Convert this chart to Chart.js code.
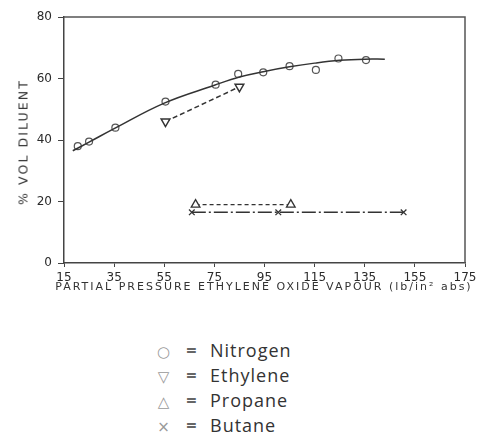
<!DOCTYPE html>
<html>
<head>
<meta charset="utf-8">
<script src="https://cdn.jsdelivr.net/npm/chart.js@4/dist/chart.umd.min.js"></script>
<style>
  html, body { margin: 0; padding: 0; background: #fff; }
  #wrap { position: relative; width: 482px; height: 438px; }
  #chart { position: absolute; left: 0; top: 0; }
  .axt { position: absolute; font-family: "DejaVu Sans", sans-serif; color: #333; white-space: nowrap; }
  #xtitle { left: 0; width: 528px; top: 280px; text-align: center; font-size: 11px; letter-spacing: 2px; }
  #ytitle { left: 23px; top: 142px; font-size: 12.5px; letter-spacing: 2.1px; transform: translate(-50%, -50%) rotate(-90deg); }
  #legend { position: absolute; left: 154px; top: 338px; font-family: "Open Sans", sans-serif; color: #333; }
  #legend div { height: 25px; line-height: 25px; font-size: 18px; letter-spacing: 1px; white-space: nowrap; }
  #legend .sym { display: inline-block; width: 20px; text-align: center; color: #999; font-family: "DejaVu Sans", sans-serif; font-size: 15px; }
  #legend .eq { display: inline-block; width: 36px; text-align: center; color: #666; font-weight: bold; }
</style>
</head>
<body>
<div id="wrap">
  <canvas id="chart" width="482" height="300"></canvas>
  <div id="xtitle" class="axt">PARTIAL PRESSURE ETHYLENE OXIDE VAPOUR (lb/in² abs)</div>
  <div id="ytitle" class="axt">% VOL DILUENT</div>
  <div id="legend">
    <div><span class="sym">○</span><span class="eq">=</span>Nitrogen</div>
    <div><span class="sym">▽</span><span class="eq">=</span>Ethylene</div>
    <div><span class="sym">△</span><span class="eq">=</span>Propane</div>
    <div><span class="sym">×</span><span class="eq">=</span>Butane</div>
  </div>
</div>
<script>
const nitrogenX = [20.5, 25, 35.5, 55.5, 75.5, 84.5, 94.5, 105, 115.5, 124.5, 135.5];
const nitrogenY = [38, 39.5, 44, 52.5, 58, 61.5, 62, 64, 62.8, 66.5, 66];

// Smooth fitted curve through the nitrogen points
const fitX = [18.5, 25, 35, 55, 75, 85, 95, 105, 115, 125, 135, 143];
const fitY = [36.5, 39.3, 43.7, 52, 57.8, 60.5, 62.3, 63.8, 65, 65.9, 66.3, 66.3];

const ethyleneX = [55.5, 85];
const ethyleneY = [46, 57.3];

const propaneX = [67.5, 105.5];
const propaneY = [19, 19];

const butaneX = [66, 100.5, 150.5];
const butaneY = [16.5, 16.5, 16.5];

const xTicks = [15, 35, 55, 75, 95, 115, 135, 155, 175];
const yTicks = [0, 20, 40, 60, 80];

const toPoints = (xs, ys) => xs.map((x, i) => ({ x: x, y: ys[i] }));

const ink = '#333';

// Box around the plot area (top and right edges)
const framePlugin = {
  id: 'frame',
  afterDraw(chart) {
    const a = chart.chartArea;
    const ctx = chart.ctx;
    ctx.save();
    ctx.strokeStyle = '#555';
    ctx.lineWidth = 1.5;
    ctx.beginPath();
    ctx.moveTo(a.left, a.top);
    ctx.lineTo(a.right, a.top);
    ctx.lineTo(a.right, a.bottom);
    ctx.stroke();
    ctx.restore();
  }
};

const ctx = document.getElementById('chart').getContext('2d');
const chart = new Chart(ctx, {
  type: 'scatter',
  data: {
    datasets: [
      {
        label: 'fit',
        data: toPoints(fitX, fitY),
        showLine: true,
        tension: 0.4,
        borderColor: ink,
        borderWidth: 1.5,
        pointRadius: 0
      },
      {
        label: 'Nitrogen',
        data: toPoints(nitrogenX, nitrogenY),
        pointStyle: 'circle',
        pointRadius: 3.5,
        backgroundColor: '#fff',
        borderColor: '#555',
        borderWidth: 1.2
      },
      {
        label: 'Ethylene',
        data: toPoints(ethyleneX, ethyleneY),
        showLine: true,
        borderDash: [5, 3],
        borderColor: ink,
        borderWidth: 1.5,
        pointStyle: 'triangle',
        rotation: 180,
        pointRadius: 5,
        backgroundColor: '#fff'
      },
      {
        label: 'Propane',
        data: toPoints(propaneX, propaneY),
        showLine: true,
        borderDash: [4, 3],
        borderColor: ink,
        borderWidth: 1.3,
        pointStyle: 'triangle',
        pointRadius: 5,
        backgroundColor: '#fff'
      },
      {
        label: 'Butane',
        data: toPoints(butaneX, butaneY),
        showLine: true,
        borderDash: [14, 3, 2, 3],
        borderColor: ink,
        borderWidth: 1.3,
        pointStyle: 'crossRot',
        pointRadius: 4,
        backgroundColor: '#fff'
      }
    ]
  },
  options: {
    responsive: false,
    animation: false,
    layout: { padding: { left: 0, right: 17, top: 17, bottom: 0 } },
    plugins: {
      legend: { display: false },
      tooltip: { enabled: false }
    },
    scales: {
      x: {
        type: 'linear',
        min: 15,
        max: 175,
        afterBuildTicks: (scale) => { scale.ticks = xTicks.map(v => ({ value: v })); },
        afterFit: (scale) => { scale.height = 37; },
        border: { color: '#444', width: 1.5 },
        grid: { drawOnChartArea: false, tickLength: 4, color: '#444' },
        ticks: {
          color: '#2a2a2a',
          font: { family: 'DejaVu Sans', size: 12 },
          padding: 4,
          maxRotation: 0
        }
      },
      y: {
        min: 0,
        max: 80,
        afterBuildTicks: (scale) => { scale.ticks = yTicks.map(v => ({ value: v })); },
        afterFit: (scale) => { scale.width = 64; },
        border: { color: '#444', width: 1.5 },
        grid: { drawOnChartArea: false, tickLength: 6, color: '#444' },
        ticks: {
          color: '#2a2a2a',
          font: { family: 'DejaVu Sans', size: 12 },
          padding: 6
        }
      }
    }
  },
  plugins: [framePlugin]
});
</script>
</body>
</html>
